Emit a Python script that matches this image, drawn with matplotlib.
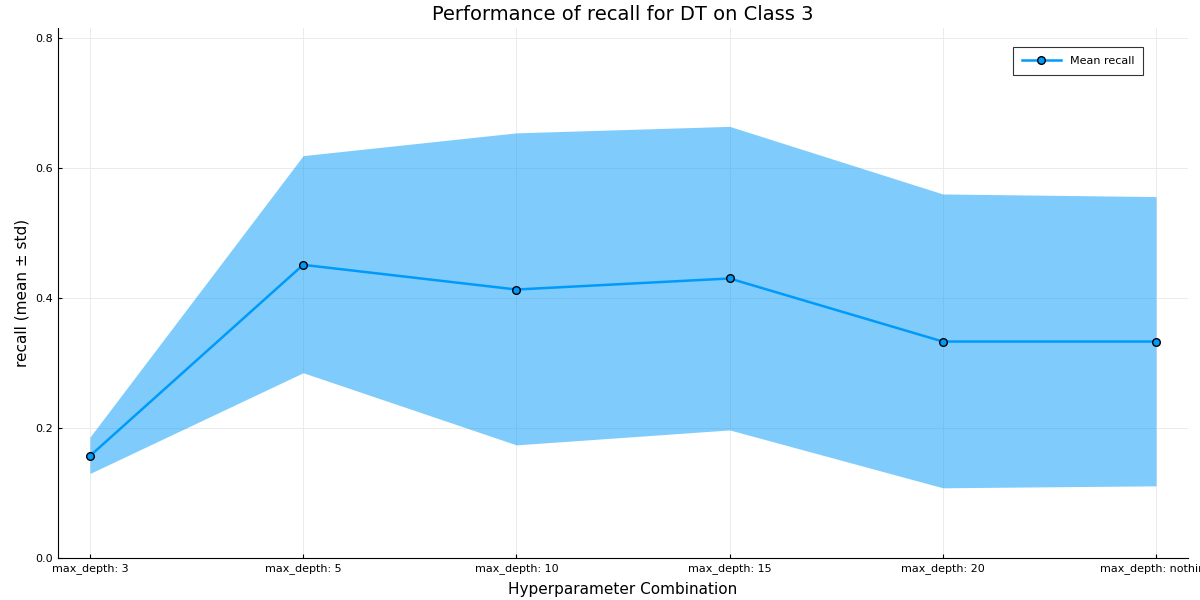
import matplotlib
matplotlib.use("Agg")
import matplotlib.pyplot as plt

labels = ["max_depth: 3", "max_depth: 5", "max_depth: 10", "max_depth: 15", "max_depth: 20", "max_depth: nothing"]
mean = [0.157, 0.451, 0.413, 0.430, 0.333, 0.333]
upper = [0.186, 0.619, 0.654, 0.664, 0.560, 0.556]
lower = [0.130, 0.285, 0.174, 0.197, 0.108, 0.111]

c = "#009AFA"
fig = plt.figure(figsize=(12, 6), dpi=100)
ax = fig.add_axes([0.0483, 0.07, 0.9417, 0.883])
ax.set_axisbelow(True)
x = list(range(len(labels)))
ax.fill_between(x, lower, upper, color=c, alpha=0.5, linewidth=0, zorder=2)
ax.plot(x, mean, color=c, lw=1.8, marker="o", ms=5.5, mec="black", mew=1, label="Mean recall", zorder=3)
ax.set_xlim(-0.15, 5.15)
ax.set_ylim(0, 0.815)
ax.set_xticks(x)
ax.set_xticklabels(labels, fontsize=8)
ax.set_yticks([0, 0.2, 0.4, 0.6, 0.8])
ax.set_yticklabels(["0.0", "0.2", "0.4", "0.6", "0.8"], fontsize=8)
ax.grid(True, color="#ebebeb", lw=0.7, zorder=0)
for s in ["top", "right"]:
    ax.spines[s].set_visible(False)
ax.tick_params(direction="in", length=3)
ax.set_title("Performance of recall for DT on Class 3", fontsize=14)
ax.set_xlabel("Hyperparameter Combination", fontsize=11, labelpad=6)
ax.set_ylabel("recall (mean ± std)", fontsize=11)
leg = ax.legend(loc="upper right", fontsize=8, fancybox=False, edgecolor="black",
                borderpad=0.8, handlelength=3.5, bbox_to_anchor=(0.965, 0.975))
leg.get_frame().set_linewidth(0.8)
fig.savefig("out.png")
